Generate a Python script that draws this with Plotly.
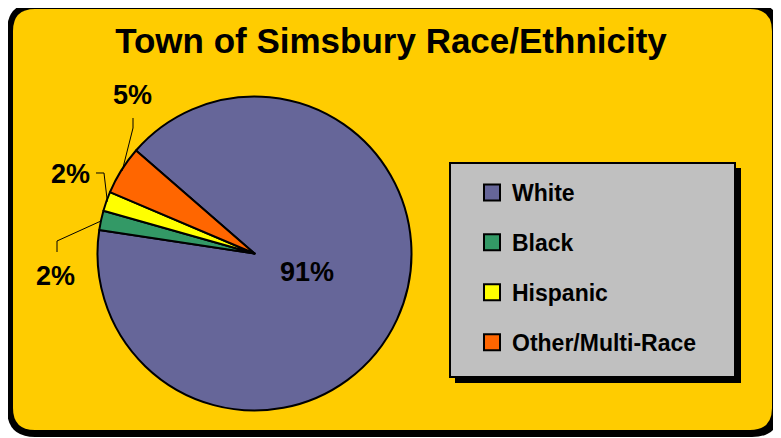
import math
import plotly.graph_objects as go

# ---- data ----
categories = ["White", "Black", "Hispanic", "Other/Multi-Race"]
values = [91, 2, 2, 5]
colors = ["#666699", "#339966", "#FFFF00", "#FF6600"]
title_text = "Town of Simsbury Race/Ethnicity"

FONT = "Liberation Sans, Arial, sans-serif"

# the page body has an 8px margin; size the figure so it fills the window
OFF = 8
W, H = 781 - OFF, 438 - OFF


def px(x, y):
    """window pixel -> paper coordinates (margins are zero)"""
    return (x - OFF) / W, 1 - (y - OFF) / H


def rounded_path(x0, y0, x1, y1, r):
    def P(x, y):
        a, b = px(x, y)
        return f"{a:.5f},{b:.5f}"
    return (f"M {P(x0 + r, y0)} L {P(x1 - r, y0)} Q {P(x1, y0)} {P(x1, y0 + r)} "
            f"L {P(x1, y1 - r)} Q {P(x1, y1)} {P(x1 - r, y1)} "
            f"L {P(x0 + r, y1)} Q {P(x0, y1)} {P(x0, y1 - r)} "
            f"L {P(x0, y0 + r)} Q {P(x0, y0)} {P(x0 + r, y0)} Z")


# pie geometry (window pixels)
cx, cy, R = 254.5, 253.5, 157
rotation = -49

dx0, dy1 = px(cx - R, cy - R)
dx1, dy0 = px(cx + R, cy + R)

fig = go.Figure()
fig.add_trace(go.Pie(
    labels=categories, values=values, sort=False, direction="clockwise",
    rotation=rotation,
    marker=dict(colors=colors, line=dict(color="black", width=2)),
    textinfo="none",
    showlegend=False,
    domain=dict(x=[dx0, dx1], y=[dy0, dy1]),
    hoverinfo="label+percent",
))

# legend entries via dummy traces (to control spacing)
for i, (cat, col) in enumerate(zip(categories, colors)):
    fig.add_trace(go.Scatter(
        x=[None], y=[None], mode="markers", name=cat, legendgroup=f"g{i}",
        marker=dict(symbol="square", size=16, color=col, line=dict(color="black", width=2)),
    ))

shapes = []
# outer frame
shapes.append(dict(type="path", path=rounded_path(7, 3, 780, 437, 28), xref="paper", yref="paper",
                   fillcolor="black", line=dict(width=0), layer="below"))
shapes.append(dict(type="path", path=rounded_path(13, 9, 772, 430, 22), xref="paper", yref="paper",
                   fillcolor="#FFCC00", line=dict(width=0), layer="below"))
# legend box with shadow
sx0, sy0 = px(455, 168); sx1, sy1 = px(741, 383)
shapes.append(dict(type="rect", x0=sx0, y0=sy0, x1=sx1, y1=sy1, xref="paper", yref="paper",
                   fillcolor="black", line=dict(width=0), layer="below"))
bx0, by0 = px(450, 163); bx1, by1 = px(735, 377)
shapes.append(dict(type="rect", x0=bx0, y0=by0, x1=bx1, y1=by1, xref="paper", yref="paper",
                   fillcolor="#C0C0C0", line=dict(color="black", width=2), layer="below"))

# slice mid angles (screen, clockwise from 12 o'clock) for leader lines
total = sum(values)
cum = 0
mids = []
for v in values:
    mids.append(rotation + 360 * (cum + v / 2) / total)
    cum += v


def edge_point(ang_deg, rr):
    a = math.radians(ang_deg)
    return cx + rr * math.sin(a), cy - rr * math.cos(a)


leaders = {
    3: [(133, 128), (133, 118)],   # Other
    2: [(104, 173), (96, 173)],    # Hispanic
    1: [(57, 241), (57, 252)],     # Black
}
label_pos = {0: (307, 272), 3: (132, 95), 2: (70, 174), 1: (55, 276)}

annotations = []
for idx, elbows in leaders.items():
    sx, sy = edge_point(mids[idx], R - 1)
    pts = [(sx, sy)] + elbows
    path = "M " + " L ".join("{:.5f},{:.5f}".format(*px(x, y)) for x, y in pts)
    shapes.append(dict(type="path", path=path, xref="paper", yref="paper",
                       line=dict(color="black", width=1)))

for idx, (lx_, ly_) in label_pos.items():
    lx, ly = px(lx_, ly_)
    pct = round(100 * values[idx] / total)
    annotations.append(dict(x=lx, y=ly, xref="paper", yref="paper", text=f"<b>{pct}%</b>",
                            showarrow=False, xanchor="center", yanchor="middle",
                            font=dict(family=FONT, size=27, color="black")))

tx, ty = px(391, 41)
fig.update_layout(
    width=W, height=H,
    margin=dict(l=0, r=0, t=0, b=0),
    paper_bgcolor="white", plot_bgcolor="rgba(0,0,0,0)",
    title=dict(text=f"<b>{title_text}</b>", x=tx, xanchor="center", y=ty, yanchor="middle",
               font=dict(family=FONT, size=35, color="black")),
    xaxis=dict(visible=False), yaxis=dict(visible=False),
    shapes=shapes, annotations=annotations,
    legend=dict(x=px(472, 0)[0], y=px(0, 171)[1], xanchor="left", yanchor="top",
                bgcolor="rgba(0,0,0,0)", borderwidth=0, tracegroupgap=17,
                font=dict(family=FONT, size=23, color="black", weight="bold")),
)

fig.write_html("out.html")
